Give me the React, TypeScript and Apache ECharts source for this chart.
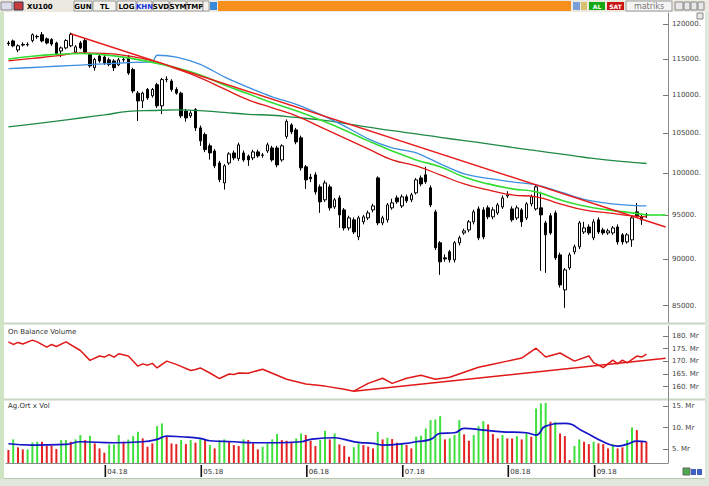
import React, { useEffect, useRef } from "react";
import * as echarts from "echarts";

// ---------- DATA ----------
const OPEN = [117300,117600,116300,117000,117100,117650,118200,118500,117900,117800,117300,116150,116600,116900,116000,117300,117650,115650,113800,115450,115300,114900,114750,114200,114900,115300,113550,110300,109250,110800,109950,111450,108600,112150,111950,110800,110300,107900,107270,108100,105700,104840,103400,102750,101250,98800,101250,102500,101800,102500,102100,101880,102630,102200,102750,103130,103130,101630,104600,106090,105440,104420,100770,99500,99780,98320,96770,98320,95930,97000,95580,93490,94420,92470,94190,94650,95580,99410,94070,94420,95820,97000,96050,97130,96770,97600,99410,99780,98200,95350,91800,90120,90790,89900,91800,92920,93260,94190,95700,95580,95820,94770,95230,95930,97240,95700,94650,95580,94650,96290,95700,95820,94070,94900,95230,90450,86650,89020,90790,91350,93030,93600,92360,94420,93260,92920,92920,93600,92700,91900,92130,95350,94770,95000];
const CLOSE = [117200,116900,116900,117100,117050,118500,118250,117600,117300,117150,115750,116600,117650,118550,116750,116600,116000,114050,114950,114750,114450,114250,113800,114900,114950,113050,110600,109250,110300,109650,110800,108600,112150,112200,110800,110300,107270,107000,107650,105700,104030,102920,102500,100890,99210,100890,102380,101880,103520,101630,101630,102630,102130,102250,103520,101630,101010,103400,106540,105180,103900,100640,99170,99300,97720,96530,98800,95820,96770,95000,93490,94650,93030,94650,94770,95230,96050,94070,94650,96170,96410,96530,97130,96650,97360,99170,98680,98930,96170,91240,89680,90000,89900,91800,92360,93150,94190,95350,92360,92470,94770,95580,96170,97000,97360,94420,95820,94190,96290,97130,98320,95000,92700,92920,90120,87180,88800,90450,91350,94070,93490,92920,94190,93030,92920,93150,93490,91900,91900,92700,94650,94880,94420,95000];
const LOW = [116900,116700,116000,116800,116800,117400,117900,117400,117100,116900,115500,115300,116400,116700,115800,116400,115800,113800,113400,114500,114200,114000,113350,114000,114600,112800,110300,106600,108300,109400,109700,108300,107500,111800,110500,110100,107000,106500,107000,105300,103400,102600,101660,100600,98900,98000,101000,101600,101500,101400,100890,101600,101900,101900,102500,101400,100700,101400,104300,104900,103600,100300,98070,98900,97400,95230,96500,95500,95700,93500,93200,93200,92800,92100,93900,94400,95300,93800,93800,94100,95600,96300,95800,96400,96500,97400,98400,98700,95900,91000,88260,89700,89600,89600,91500,92700,93000,93900,92100,92200,94500,94500,95000,95700,97000,94200,94400,93600,94400,96000,95500,88690,88470,92700,89900,86900,84760,88800,90500,91100,92800,92700,92100,92800,92700,92700,92700,91600,91600,91700,91350,94650,93840,94650];
const HIGH = [117600,117800,117100,117400,117400,118700,118500,118900,118100,118000,117500,116800,117850,118800,117000,117600,118000,115900,115200,115700,115600,115200,115000,115200,115300,115600,113800,110600,110500,111000,111000,111700,112400,112600,112200,111100,110500,108200,107900,108300,106000,105100,103700,103000,101500,101100,102600,102800,103800,102800,102300,102900,102900,102500,103800,103400,103400,103600,106800,106300,105700,104700,101000,99900,100100,98600,99100,98600,97000,97300,95800,94900,94700,94900,95000,95500,96300,99600,94900,96400,96900,97300,97400,97400,97600,99400,99700,100770,98500,95600,92000,90500,91000,92000,92600,93400,94400,95600,96000,95900,96100,95900,96400,97300,97800,96000,96100,95800,96500,97400,98560,97730,94300,95200,95500,90700,89000,90700,91600,94300,94200,93900,94500,94700,93500,93400,93700,93900,92900,92900,94900,96410,95000,95230];

const CATEGORY_COUNT = 138;
const MONTH_START_IDX = [20, 40, 62, 82, 104, 122];
const MONTH_LABELS = ["04.18", "05.18", "06.18", "07.18", "08.18", "09.18"];
const PRICE_TICKS = [85000, 90000, 95000, 100000, 105000, 110000, 115000, 120000];
const OBV_TICKS = [160, 165, 170, 175, 180];
const VOL_TICKS = [5, 10, 15];

const MA_IDX = [0,5,10,15,20,25,30,35,40,45,50,55,60,65,70,75,80,85,90,95,100,105,110,115,120,125,130,133];
const MA_GREEN = [115000,115400,115670,115810,115600,115180,114550,113780,112800,111420,110210,109000,107930,106740,105440,104030,102750,101630,100770,99530,98680,98080,97720,96770,96050,95580,95230,95000];
const MA_RED = [114750,115100,115460,115880,115810,115460,114750,113640,112380,110880,109400,108330,107270,105830,104420,103010,101630,100890,99780,98680,97960,97360,97130,96290,95580,95230,94880,94770];
const MA_LONG = [105830,106200,106580,106990,107400,107850,107980,108050,107970,107730,107480,107350,107060,106740,106300,105810,105340,104930,104480,104060,103650,103210,102780,102380,101960,101590,101320,101180];
const BLUE_IDX = [0,5,10,15,20,25,30,31,35,40,45,50,55,60,65,70,75,80,85,90,95,100,105,110,115,120,125,130,133];
const MA_BLUE = [113660,113830,114000,114170,114340,114510,114680,115550,115300,114270,112520,111080,109800,108800,107470,105960,104290,103140,102510,101140,99900,99350,98930,98560,97720,96830,96360,96120,96050];

const TREND_PRICE = [[13, 118630], [137, 93600]];

const OBV_IDX = [0,1,2,3,5,6,8,9,10,12,15,17,19,20,21,22,23,25,27,28,29,30,31,33,35,38,39,40,42,44,46,47,48,50,53,55,58,62,66,70,72,75,78,80,83,86,89,92,95,98,101,104,107,110,112,115,118,121,122,124,126,127,128,129,131,132,133];
const OBV_VAL = [177.7,176.7,177.5,176.9,178.4,177.7,175.6,176.7,175.9,177.7,174.3,170.4,172.1,171.7,172.7,171.7,173.0,172.1,168.1,169.0,168.5,169.2,167.4,170.1,168.8,166.4,166.8,167.4,165.4,163.2,165.0,164.8,165.4,165.3,166.9,165.3,162.9,161.0,160.2,159.0,158.2,161.3,163.3,161.3,163.3,164.5,162.9,163.7,165.7,167.7,168.9,170.1,171.3,175.2,171.7,173.3,170.1,172.1,169.5,167.5,170.5,169.0,170.5,169.4,172.1,171.7,172.9];
const OBV_TREND = [[72, 158.2], [137, 171.2]];

const VOL = [4.84,7.3,5.46,5.0,5.0,6.61,6.76,6.76,5.84,5.84,5.08,7.14,7.14,6.76,7.3,8.3,7.14,8.14,6.38,5.22,4.23,6.15,6.15,8.3,6.76,7.3,8.06,9.06,7.53,5.61,6.38,10.37,10.99,7.91,6.38,6.22,7.14,6.22,7.14,6.53,7.53,7.3,5.99,5.22,7.14,7.3,6.76,5.99,5.76,7.3,7.14,6.38,5.0,5.61,6.38,7.3,8.53,7.14,6.99,6.76,7.53,8.68,8.3,6.99,5.76,7.14,9.29,7.3,8.68,6.15,5.76,3.29,5.5,6.38,5.99,5.61,5.22,9.06,7.3,7.68,7.38,6.53,6.38,5.99,5.22,7.91,8.14,9.83,11.75,11.91,12.67,7.3,7.53,8.3,11.75,8.45,6.99,8.3,10.37,11.52,10.76,8.53,7.53,8.3,7.53,7.53,8.06,7.3,8.68,7.91,14.45,15.6,15.74,11.37,11.37,8.68,8.06,2.53,5.76,7.3,6.76,6.22,6.76,6.38,6.22,5.22,6.22,5.22,5.46,7.14,10.07,9.45,6.76,6.76];
const VOL_UP = [0,1,0,0,1,1,1,0,0,0,0,1,1,0,1,1,0,1,0,0,0,1,1,1,0,1,1,1,0,0,0,1,1,0,0,0,1,0,1,0,1,0,1,0,1,1,0,0,0,1,0,0,0,1,1,1,1,0,0,0,1,1,0,0,0,1,1,0,1,0,0,0,1,1,0,0,0,1,0,1,0,0,1,0,0,1,1,1,1,1,1,0,1,1,1,0,0,1,1,1,0,0,0,1,0,0,1,0,1,0,1,1,1,0,1,0,0,0,1,1,0,0,1,0,0,0,1,0,0,1,1,0,0,0];
const VMA_IDX = [0,5,12,15,22,28,31,33,36,40,42,47,51,56,61,63,68,70,73,76,78,83,85,88,90,93,95,99,103,108,110,112,116,120,124,127,129,131,133];
const VMA_VAL = [6.3,6.0,6.15,6.76,6.53,6.76,7.3,8.06,7.91,7.53,6.99,6.76,6.53,6.53,6.76,7.3,7.68,7.3,6.6,6.38,5.99,6.38,6.76,7.3,8.68,8.84,9.83,9.45,9.06,8.84,8.3,10.37,10.99,9.06,6.76,5.76,6.22,6.92,6.76];

// ---------- COMPONENT ----------
const FONT = "DejaVu Sans";

export default function App() {
  const ref = useRef<HTMLDivElement>(null);
  useEffect(() => {
    if (!ref.current) return;
    const chart = echarts.init(ref.current, undefined, { renderer: "svg" });
    const L = Math.log;
    const cats = Array.from({ length: CATEGORY_COUNT }, (_, i) => String(i));
    const candle = OPEN.map((o, i) => [L(o), L(CLOSE[i]), L(LOW[i]), L(HIGH[i])]);
    const pts = (idx: number[], vals: number[], log: boolean) =>
      idx.map((ix, k) => [ix, log ? L(vals[k]) : vals[k]]);
    const isMonth = (i: number) => MONTH_START_IDX.indexOf(i) >= 0;

    const gridL = 6, gridR = 41;
    const catAxis = (gi: number, show: boolean) => ({
      type: "category", gridIndex: gi, data: cats, boundaryGap: true,
      axisLine: { show, lineStyle: { color: "#8a8a8a", width: 1 } },
      axisTick: { show: false },
      axisLabel: {
        show, interval: (i: number) => isMonth(i),
        formatter: (_v: string, i: number) => {
          const k = MONTH_START_IDX.indexOf(i);
          return k >= 0 ? MONTH_LABELS[k] : "";
        },
        align: "left", margin: 5, padding: [0, 0, 0, 3],
        fontSize: 7, fontFamily: FONT, color: "#333",
      },
      splitLine: { show: false },
    });
    const valAxis = (gi: number, min: number, max: number, ticks: number[], fmt: (v: number) => string) => ({
      type: "value", gridIndex: gi, position: "right", min, max, scale: true,
      axisLine: { show: true, lineStyle: { color: "#8a8a8a", width: 1 } },
      axisTick: { show: true, inside: true, length: 5, customValues: ticks, lineStyle: { color: "#777" } },
      axisLabel: { customValues: ticks, formatter: fmt, fontSize: 7, fontFamily: FONT, color: "#444", margin: 4 },
      splitLine: { show: false },
    });

    const btn = (label: string, x: number, w: number, color = "#000") => ({
      type: "group",
      children: [
        { type: "rect", shape: { x, y: 1, width: w, height: 10 }, style: { fill: "#f3f2ec", stroke: "#9a9a9a", lineWidth: 1 } },
        { type: "text", x: x + w / 2, y: 6.5, style: { text: label, fill: color, font: `bold 7px "${FONT}"`, align: "center", verticalAlign: "middle" } },
      ],
    });

    chart.setOption({
      animation: false,
      backgroundColor: "#ffffff",
      grid: [
        { left: gridL, right: gridR, top: 13, height: 309 },
        { left: gridL, right: gridR, top: 326, height: 73 },
        { left: gridL, right: gridR, top: 400, height: 63 },
        { left: gridL, right: gridR, top: 465, height: 12 },
      ],
      xAxis: [
        catAxis(0, false), catAxis(1, false), catAxis(2, true),
        { type: "category", gridIndex: 3, data: cats, boundaryGap: true, show: false },
      ],
      yAxis: [
        valAxis(0, L(83300), L(121700), PRICE_TICKS.map((p) => L(p)), (v) => Math.round(Math.exp(v) / 100) * 100 + "."),
        valAxis(1, 155.1, 184, OBV_TICKS, (v) => Math.round(v) + ". Mr"),
        valAxis(2, 1.85, 16.4, VOL_TICKS, (v) => Math.round(v) + ". Mr"),
        { type: "value", gridIndex: 3, min: -1, max: 1, show: false },
      ],
      series: [
        {
          type: "line", xAxisIndex: 0, yAxisIndex: 0, data: pts(MA_IDX, MA_LONG, true),
          smooth: true, showSymbol: false, lineStyle: { color: "#1f8a45", width: 1.3 }, silent: true,
        },
        {
          type: "line", xAxisIndex: 0, yAxisIndex: 0, data: pts(BLUE_IDX, MA_BLUE, true),
          smooth: 0.3, showSymbol: false, lineStyle: { color: "#3d8fe0", width: 1.3 }, silent: true,
        },
        {
          type: "line", xAxisIndex: 0, yAxisIndex: 0, data: pts(MA_IDX, MA_RED, true),
          smooth: true, showSymbol: false, lineStyle: { color: "#e01818", width: 1.3 }, silent: true,
        },
        {
          type: "line", xAxisIndex: 0, yAxisIndex: 0, data: pts(MA_IDX, MA_GREEN, true),
          smooth: true, showSymbol: false, lineStyle: { color: "#33dd33", width: 1.6 }, silent: true,
          markLine: {
            silent: true, symbol: "none", label: { show: false },
            lineStyle: { color: "#33dd33", width: 1.6, type: "solid" },
            data: [[{ coord: [133, L(MA_GREEN[MA_GREEN.length - 1])] }, { coord: [137, L(MA_GREEN[MA_GREEN.length - 1])] }]],
          },
        },
        {
          type: "candlestick", xAxisIndex: 0, yAxisIndex: 0, data: candle, barWidth: 3,
          itemStyle: { color: "#ffffff", color0: "#000000", borderColor: "#000000", borderColor0: "#000000", borderWidth: 1 },
          silent: true,
          markLine: {
            silent: true, symbol: "none", label: { show: false },
            lineStyle: { color: "#e81c1c", width: 1.5, type: "solid" },
            data: [[{ coord: [TREND_PRICE[0][0], L(TREND_PRICE[0][1])] }, { coord: [TREND_PRICE[1][0], L(TREND_PRICE[1][1])] }]],
          },
        },
        {
          type: "line", xAxisIndex: 1, yAxisIndex: 1, data: pts(OBV_IDX, OBV_VAL, false),
          showSymbol: false, lineStyle: { color: "#e01818", width: 1.5 }, silent: true,
          markLine: {
            silent: true, symbol: "none", label: { show: false },
            lineStyle: { color: "#e01818", width: 1.5, type: "solid" },
            data: [[{ coord: [OBV_TREND[0][0], OBV_TREND[0][1]] }, { coord: [OBV_TREND[1][0], OBV_TREND[1][1]] }]],
          },
        },
        {
          type: "bar", xAxisIndex: 2, yAxisIndex: 2, barWidth: 2, silent: true,
          data: VOL.map((v, i) => ({ value: v, itemStyle: { color: VOL_UP[i] ? "#3ee03e" : "#e42222" } })),
        },
        {
          type: "line", xAxisIndex: 2, yAxisIndex: 2, data: pts(VMA_IDX, VMA_VAL, false),
          smooth: true, showSymbol: false, lineStyle: { color: "#1414c8", width: 1.7 }, silent: true,
        },
        {
          type: "scatter", xAxisIndex: 3, yAxisIndex: 3, silent: true, z: 10,
          symbol: "rect", symbolSize: [1.6, 12], symbolOffset: [1, 0],
          itemStyle: { color: "#111", opacity: 1 },
          data: MONTH_START_IDX.map((i) => [i, 0]),
        },
      ],
      graphic: [
        { type: "rect", shape: { x: 0, y: 12, width: 4, height: 474 }, style: { fill: "#cfe4c2" }, silent: true },
        { type: "rect", shape: { x: 705, y: 12, width: 4, height: 474 }, style: { fill: "#dfe8da" }, silent: true },
        { type: "rect", shape: { x: 0, y: 479, width: 709, height: 7 }, style: { fill: "#dfe8da" }, silent: true },
        { type: "line", shape: { x1: 4, y1: 323.5, x2: 705, y2: 323.5 }, style: { stroke: "#c9d6c2", lineWidth: 2 }, silent: true },
        { type: "line", shape: { x1: 4, y1: 399.5, x2: 705, y2: 399.5 }, style: { stroke: "#c9d6c2", lineWidth: 2 }, silent: true },
        { type: "line", shape: { x1: 4, y1: 478.5, x2: 705, y2: 478.5 }, style: { stroke: "#b8c8b0", lineWidth: 1 }, silent: true },
        { type: "text", left: 8, top: 328, style: { text: "On Balance Volume", fill: "#333", font: `7px "${FONT}"` }, silent: true },
        { type: "text", left: 8, top: 402, style: { text: "Ag.Ort x Vol", fill: "#333", font: `7px "${FONT}"` }, silent: true },
        { type: "rect", shape: { x: 0, y: 0, width: 709, height: 12 }, style: { fill: "#ebe9e0" }, silent: true },
        { type: "rect", shape: { x: 1, y: 2, width: 11, height: 8 }, style: { fill: "#dcdcec", stroke: "#888" }, silent: true },
        { type: "rect", shape: { x: 14, y: 2, width: 9, height: 8 }, style: { fill: "#c83c3c", stroke: "#335" }, silent: true },
        { type: "text", x: 27, y: 6.5, style: { text: "XU100", fill: "#000", font: `bold 7px "${FONT}"`, verticalAlign: "middle" }, silent: true },
        btn("GUN", 74, 18), btn("TL", 93, 23), btn("LOG", 117, 19), btn("KHN", 137, 15, "#1030e0"),
        btn("SVD", 153, 16), btn("SYM", 170, 16), btn("TMP", 187, 16),
        { type: "rect", shape: { x: 203, y: 1, width: 6, height: 10 }, style: { fill: "#f3f2ec", stroke: "#9a9a9a" }, silent: true },
        { type: "rect", shape: { x: 210, y: 2, width: 7, height: 8 }, style: { fill: "#3a8ad8" }, silent: true },
        { type: "rect", shape: { x: 218, y: 1, width: 353, height: 10 }, style: { fill: "#f7901c" }, silent: true },
        { type: "rect", shape: { x: 573, y: 2, width: 7, height: 8 }, style: { fill: "#7aa0d8" }, silent: true },
        { type: "rect", shape: { x: 581, y: 2, width: 6, height: 8 }, style: { fill: "#d8c070" }, silent: true },
        { type: "rect", shape: { x: 589, y: 2, width: 16, height: 8 }, style: { fill: "#14a814" }, silent: true },
        { type: "text", x: 597, y: 6.5, style: { text: "AL", fill: "#fff", font: `bold 6px "${FONT}"`, align: "center", verticalAlign: "middle" }, silent: true },
        { type: "rect", shape: { x: 607, y: 2, width: 17, height: 8 }, style: { fill: "#c81414" }, silent: true },
        { type: "text", x: 615.5, y: 6.5, style: { text: "SAT", fill: "#fff", font: `bold 6px "${FONT}"`, align: "center", verticalAlign: "middle" }, silent: true },
        { type: "rect", shape: { x: 626, y: 1, width: 46, height: 10 }, style: { fill: "#f4f4f4", stroke: "#999" }, silent: true },
        { type: "text", x: 649, y: 6.5, style: { text: "matriks", fill: "#777", font: `8px "${FONT}"`, align: "center", verticalAlign: "middle" }, silent: true },
        { type: "rect", shape: { x: 675, y: 2, width: 8, height: 8 }, style: { fill: "#e8e8e8", stroke: "#888" }, silent: true },
        { type: "rect", shape: { x: 684, y: 2, width: 6, height: 8 }, style: { fill: "#e8e8e8", stroke: "#888" }, silent: true },
        { type: "rect", shape: { x: 691, y: 2, width: 6, height: 8 }, style: { fill: "#e8e8e8", stroke: "#888" }, silent: true },
        { type: "rect", shape: { x: 698, y: 2, width: 6, height: 8 }, style: { fill: "#e8e8e8", stroke: "#888" }, silent: true },
        { type: "rect", shape: { x: 697, y: 13, width: 6, height: 6 }, style: { fill: "#e8e8e8", stroke: "#888" }, silent: true },
        { type: "rect", shape: { x: 683, y: 468, width: 7, height: 7 }, style: { fill: "#4caa4c", stroke: "#666" }, silent: true },
        { type: "rect", shape: { x: 691, y: 469, width: 5, height: 6 }, style: { fill: "#4060c0" }, silent: true },
        { type: "rect", shape: { x: 697, y: 469, width: 5, height: 6 }, style: { fill: "#4060c0" }, silent: true },
      ],
    });
    return () => chart.dispose();
  }, []);
  return <div ref={ref} style={{ position: "fixed", left: 0, top: 0, width: 709, height: 486 }} />;
}
